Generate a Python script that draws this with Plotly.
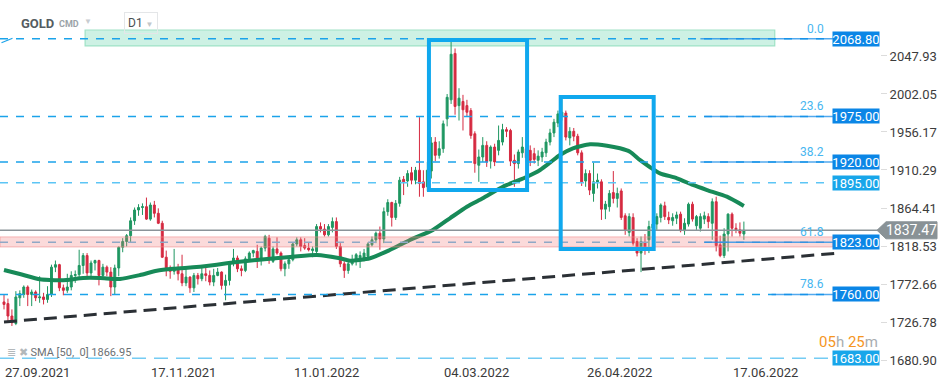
import plotly.graph_objects as go
import pandas as pd

# ---------------- data ----------------
holidays = ["2021-11-25", "2021-12-24", "2021-12-31", "2022-04-15", "2022-05-30"]
dates = [d for d in pd.bdate_range("2021-09-27", "2022-06-22") if d.strftime("%Y-%m-%d") not in holidays]

open_ = [1751,1749,1734,1725,1756,1760,1769,1760,1763,1756,
         1757,1754,1760,1793,1796,1768,1765,1769,1783,1784,
         1795,1807,1786,1798,1801,1783,1793,1787,1769,1792,
         1817,1824,1831,1849,1862,1865,1866,1851,1868,1858,
         1846,1805,1790,1788,1791,1785,1774,1781,1768,1783,
         1779,1785,1783,1775,1783,1787,1771,1777,1798,1804,
         1791,1789,1803,1810,1812,1802,1816,1828,1800,1815,
         1810,1791,1797,1802,1821,1826,1819,1816,1813,1812,
         1842,1839,1832,1841,1848,1818,1797,1789,1797,1800,
         1802,1804,1806,1820,1826,1834,1827,1860,1871,1853,
         1870,1899,1897,1907,1898,1910,1896,1890,1909,1944,
         1928,1936,1972,1995,2051,1988,1993,1988,1982,1954,
         1916,1926,1940,1921,1938,1934,1944,1959,1958,1922,
         1918,1931,1936,1934,1930,1922,1926,1931,1944,1955,
         1967,1975,1979,1949,1957,1951,1931,1897,1906,1882,
         1895,1896,1863,1866,1883,1876,1885,1855,1835,1853,
         1824,1810,1823,1826,1840,1845,1853,1867,1853,1849,
         1852,1857,1837,1845,1869,1843,1840,1851,1854,1846,
         1872,1820,1807,1833,1857,1840,1838,1833]
high = [1760,1755,1742,1764,1765,1771,1771,1766,1765,1782,
        1762,1770,1796,1801,1797,1772,1785,1788,1789,1814,
        1810,1810,1801,1802,1802,1797,1795,1793,1796,1818,
        1828,1833,1853,1865,1869,1870,1877,1871,1873,1864,
        1849,1813,1795,1815,1797,1808,1792,1782,1786,1786,
        1793,1793,1789,1791,1792,1788,1784,1799,1815,1807,
        1795,1806,1812,1814,1820,1818,1832,1832,1818,1829,
        1812,1800,1806,1823,1829,1829,1828,1823,1818,1845,
        1847,1845,1845,1853,1853,1822,1800,1802,1808,1810,
        1812,1815,1823,1830,1836,1842,1865,1875,1872,1874,
        1902,1903,1910,1914,1914,1974,1910,1920,1950,1950,
        1945,1970,2002,2068.8,2057,2009,2001,1995,1985,1957,
        1935,1950,1945,1940,1942,1964,1966,1962,1960,1929,
        1935,1950,1942,1940,1937,1934,1937,1948,1960,1972,
        1982,1998,1982,1962,1961,1954,1934,1911,1910,1919,
        1906,1899,1873,1886,1909,1889,1888,1858,1858,1858,
        1828,1830,1833,1849,1849,1858,1870,1872,1860,1858,
        1860,1860,1852,1871,1872,1856,1858,1860,1858,1876,
        1878,1831,1840,1858,1859,1846,1847,1848]
low = [1742,1727,1722,1723,1746,1756,1746,1746,1752,1750,
       1748,1750,1757,1787,1764,1759,1762,1765,1774,1781,
       1785,1782,1781,1789,1771,1781,1782,1758,1760,1782,
       1811,1818,1823,1844,1855,1856,1850,1849,1853,1845,
       1804,1782,1779,1784,1777,1770,1770,1762,1763,1772,
       1776,1776,1771,1770,1782,1766,1753,1771,1794,1787,
       1782,1787,1800,1805,1792,1795,1812,1797,1798,1808,
       1788,1782,1791,1800,1818,1812,1814,1812,1805,1810,
       1835,1830,1830,1835,1815,1793,1780,1785,1795,1795,
       1792,1800,1803,1818,1822,1814,1822,1855,1842,1850,
       1866,1880,1890,1893,1893,1878,1878,1885,1900,1921,
       1924,1931,1963,1990,1977,1970,1958,1975,1948,1907,
       1896,1920,1914,1912,1915,1928,1940,1950,1915,1890,
       1912,1925,1920,1915,1918,1915,1920,1926,1940,1950,
       1962,1970,1946,1940,1945,1928,1891,1890,1880,1872,
       1888,1850,1851,1860,1870,1865,1850,1832,1830,1819,
       1806,1787,1808,1810,1834,1838,1847,1850,1845,1843,
       1845,1835,1832,1842,1848,1838,1836,1845,1840,1826,
       1812,1805,1804,1812,1830,1834,1830,1826]
close = [1748,1734,1726,1757,1761,1769,1760,1763,1756,1757,
         1754,1760,1793,1796,1768,1765,1769,1783,1784,1795,
         1807,1786,1798,1801,1783,1793,1787,1769,1792,1817,
         1824,1831,1849,1862,1865,1866,1851,1868,1858,1846,
         1805,1790,1788,1791,1785,1774,1781,1768,1783,1779,
         1785,1783,1775,1783,1787,1771,1777,1798,1804,1791,
         1789,1803,1810,1813,1802,1816,1830,1802,1815,1810,
         1791,1797,1802,1821,1826,1818,1816,1814,1815,1842,
         1839,1832,1842,1848,1818,1797,1789,1797,1802,1808,
         1807,1810,1821,1826,1834,1827,1860,1871,1853,1870,
         1898,1896,1906,1898,1910,1894,1889,1910,1943,1928,
         1936,1966,1998,2050,1987,1997,1983,1980,1952,1918,
         1926,1940,1920,1938,1920,1946,1959,1957,1921,1918,
         1932,1938,1925,1922,1923,1927,1932,1944,1955,1968,
         1978,1980,1950,1957,1951,1931,1896,1906,1886,1896,
         1898,1863,1869,1882,1876,1882,1853,1838,1854,1822,
         1810,1824,1816,1842,1845,1854,1868,1854,1850,1853,
         1856,1837,1846,1869,1851,1854,1854,1855,1848,1872,
         1819,1807,1833,1857,1840,1838,1834,1837.47]

# SMA(50) (candle index, value)
sma_idx = [0, 4, 9.1, 11.6, 15.8, 20, 24.3, 29.3, 34.4, 38.6, 42.8, 47.8, 51.2, 56.3, 61.3,
           73, 79.1, 84.9, 87.4, 92.5, 97.5, 102.6, 108.4, 112.7, 117, 121, 126.1, 132.2,
           135.5, 138, 140.5, 143.8, 148.1, 152.4, 155.7, 158.2, 160.7, 163.3, 165.8,
           170.1, 174.1, 177.7, 182.7, 187]
sma_val = [1789.6, 1784.7, 1778.3, 1777.5, 1777.5, 1779.9, 1779.9, 1778.7, 1783.5, 1788.7,
           1791.1, 1792.8, 1794.4, 1797.6, 1800.4, 1805.6, 1807.7, 1803.7, 1800.8, 1803.7,
           1813.7, 1825.8, 1837.9, 1852.0, 1866.0, 1876.1, 1890.1, 1902.2, 1910.3, 1919.1,
           1928.4, 1936.5, 1941.3, 1939.6, 1936.5, 1932.4, 1922.4, 1913.6, 1906.3, 1900.3,
           1892.2, 1886.1, 1878.1, 1866.95]

# drawn levels
level_prices = [2068.80, 1975.00, 1920.00, 1895.00, 1823.00, 1760.00, 1683.00]
level_line_colors = ["#1ba3ea", "#1ba3ea", "#1ba3ea", "#5cc5f5", "#8fa8c6", "#1ba3ea", "#74ccf4"]
level_box_colors = ["#0b86e6", "#0b86e6", "#0b86e6", "#18a6ea", "#0b86e6", "#0b86e6", "#18a6ea"]
fib_names = ["0.0", "23.6", "38.2", "61.8", "78.6"]
fib_prices = [2068.80, 1975.00, 1920.00, 1823.00, 1760.00]
fib_start = [176, 177, 176, 177, 194]
trend_x = [0, 211.3]
trend_y = [1726.8, 1810.1]
box1 = dict(x0=107.4, x1=132.2, y0=1886.1, y1=2067.2)
box2 = dict(x0=140.7, x1=164.2, y0=1814.9, y1=1998.4)
zone_green = dict(x0=20.5, x1=194.8, y0=2060.0, y1=2079.3)
zone_pink = dict(y0=1817.4, y1=1829.5)
last_price = 1837.47
ytick_vals = [2047.93, 2002.05, 1956.17, 1910.29, 1864.41, 1818.53, 1772.66, 1726.78, 1680.90]
xlabel_dates = ["2021-09-27", "2021-11-17", "2022-01-11", "2022-03-04", "2022-04-26", "2022-06-17"]

# --------------- figure ----------------
W, H = 949, 385
ML, MR, MT, MB = 0, 69, 0, 23
PW, PH = W - ML - MR, H - MT - MB
XR = [-1.01, 221.4]
YR = [1678.5, 2115.5]
FONT = "Roboto, Arial, sans-serif"
LINE_END = 208.7

def px(x):
    return x / PW

def py(y):
    return (PH - y) / PH

idx = list(range(len(dates)))
date_pos = {d.strftime("%Y-%m-%d"): i for i, d in enumerate(dates)}

fig = go.Figure()
fig.add_trace(go.Candlestick(
    x=idx, open=open_, high=high, low=low, close=close,
    increasing=dict(line=dict(color="#1f9762", width=1), fillcolor="#1f9762"),
    decreasing=dict(line=dict(color="#d52a40", width=1), fillcolor="#d52a40"),
    whiskerwidth=0, showlegend=False, hoverinfo="skip"))

fig.add_trace(go.Scatter(x=sma_idx, y=sma_val, mode="lines",
                         line=dict(color="#178a58", width=4, shape="spline", smoothing=0.6),
                         showlegend=False, hoverinfo="skip"))

fig.add_trace(go.Scatter(x=trend_x, y=trend_y, mode="lines",
                         line=dict(color="#2b3035", width=3, dash="13px,7px"),
                         showlegend=False, hoverinfo="skip"))

shapes = []
# green zone (behind candles)
shapes.append(dict(type="rect", xref="x", yref="y", layer="below",
                   x0=zone_green["x0"], x1=zone_green["x1"], y0=zone_green["y0"], y1=zone_green["y1"],
                   fillcolor="rgba(90,210,165,0.30)", line=dict(color="#9fe2c6", width=1.2)))
# pink zone
shapes.append(dict(type="rect", xref="x", yref="y", layer="above",
                   x0=XR[0], x1=LINE_END + 0.8, y0=zone_pink["y0"], y1=zone_pink["y1"],
                   fillcolor="rgba(240,120,120,0.27)", line=dict(color="rgba(240,140,140,0.6)", width=1)))
# last price line
shapes.append(dict(type="line", xref="paper", yref="y", layer="above",
                   x0=0, x1=1, y0=last_price, y1=last_price,
                   line=dict(color="#8a9398", width=1.5)))
# dashed levels
for p, c in zip(level_prices, level_line_colors):
    dash = "14px,8px" if p == 1683.00 else "8px,8px"
    shapes.append(dict(type="line", xref="x", yref="y", layer="above",
                       x0=XR[0], x1=LINE_END, y0=p, y1=p,
                       line=dict(color=c, width=1.5, dash=dash)))
# fib solid segments
for s, p in zip(fib_start, fib_prices):
    shapes.append(dict(type="line", xref="x", yref="y", layer="above",
                       x0=s, x1=LINE_END + 0.8, y0=p, y1=p,
                       line=dict(color="rgba(24,140,232,0.75)", width=1.5)))
# blue boxes
for b in (box1, box2):
    shapes.append(dict(type="rect", xref="x", yref="y", layer="above",
                       x0=b["x0"], x1=b["x1"], y0=b["y0"], y1=b["y1"],
                       fillcolor="rgba(0,0,0,0)", line=dict(color="#10a8ee", width=4)))
# small arrow mark at top-left
shapes.append(dict(type="line", xref="paper", yref="paper", layer="above",
                   x0=px(1.5), y0=py(42.7), x1=px(12.5), y1=py(38.3),
                   line=dict(color="#1ba3ea", width=1.2)))
# current price tag
yt = last_price + 8.5 * (YR[1] - YR[0]) / PH
yb = last_price - 8.5 * (YR[1] - YR[0]) / PH
path = (f"M {px(877)},{last_price} L {px(886)},{yt} L {px(937)},{yt} "
        f"L {px(937)},{yb} L {px(886)},{yb} Z")
shapes.append(dict(type="path", xref="paper", yref="y", path=path,
                   fillcolor="#899296", line=dict(color="#899296", width=1)))

annotations = []
# level price boxes
for p, c in zip(level_prices, level_box_colors):
    annotations.append(dict(xref="paper", yref="y", x=px(880), y=p, xanchor="right", yanchor="middle",
                            text=f"{p:.2f}", showarrow=False, bgcolor=c, width=46, height=14,
                            borderpad=0, font=dict(family=FONT, size=13, color="white")))
# fib level names
for n, p in zip(fib_names, fib_prices):
    annotations.append(dict(xref="x", yref="y", x=207.8, y=p, xanchor="right", yanchor="bottom",
                            yshift=1, text=n, showarrow=False,
                            font=dict(family=FONT, size=12, color="#47b6f0")))
# last price text
annotations.append(dict(xref="paper", yref="y", x=px(911), y=last_price, xanchor="center",
                        yanchor="middle", text=f"{last_price:.2f}", showarrow=False,
                        font=dict(family=FONT, size=14, color="white")))
# x labels (left aligned on the candle)
for d in xlabel_dates:
    i = date_pos[d]
    annotations.append(dict(xref="x", yref="paper", x=i, y=0, xanchor="left", yanchor="top",
                            xshift=-1, yshift=-1,
                            text=pd.Timestamp(d).strftime("%d.%m.%Y"), showarrow=False,
                            font=dict(family=FONT, size=13, color="#3a3a3a")))
# header
annotations += [
    dict(xref="paper", yref="paper", x=px(19), y=py(23), xanchor="left", yanchor="middle",
         text="<b>GOLD</b>", showarrow=False, font=dict(family=FONT, size=13, color="#555c61")),
    dict(xref="paper", yref="paper", x=px(57), y=py(24), xanchor="left", yanchor="middle",
         text="<b>CMD</b>", showarrow=False, font=dict(family=FONT, size=9, color="#9ba3a8")),
    dict(xref="paper", yref="paper", x=px(82), y=py(21), xanchor="left", yanchor="middle",
         text="▼", showarrow=False, font=dict(family=FONT, size=8, color="#c8ccd0")),
    dict(xref="paper", yref="paper", x=px(124), y=py(23), xanchor="left", yanchor="middle",
         text="D1 <span style='color:#c3c7ca;font-size:8px'>▼</span>", showarrow=False,
         bordercolor="#e4e6e8", borderwidth=1, borderpad=3,
         font=dict(family=FONT, size=12, color="#4a4f53")),
    # SMA legend
    dict(xref="paper", yref="paper", x=px(5), y=py(352), xanchor="left", yanchor="middle",
         text="<span style='color:#b3b8bb'>≣ ✖</span> SMA [50,  0] 1866.95", showarrow=False,
         font=dict(family=FONT, size=11, color="#6c7174")),
    # countdown
    dict(xref="paper", yref="paper", x=px(880), y=py(342), xanchor="right", yanchor="middle",
         text="<span style='color:#f5961f'>05</span><span style='color:#a8adb0'>h</span> "
              "<span style='color:#f5961f'>25</span><span style='color:#a8adb0'>m</span>",
         showarrow=False, font=dict(family=FONT, size=15)),
]

fig.update_layout(
    width=W, height=H, margin=dict(l=ML, r=MR, t=MT, b=MB),
    paper_bgcolor="white", plot_bgcolor="white",
    font=dict(family=FONT),
    shapes=shapes, annotations=annotations, showlegend=False,
    xaxis=dict(range=XR, showgrid=False, zeroline=False, showticklabels=False,
               showline=False, rangeslider=dict(visible=False), fixedrange=True),
    yaxis=dict(range=YR, side="right", showgrid=False, zeroline=False, showline=False,
               tickvals=ytick_vals, ticktext=[f"{v:.2f}" for v in ytick_vals],
               ticks="outside", ticklen=6, tickcolor="#dcdcdc",
               tickfont=dict(family=FONT, size=13, color="#3c3c3c"), fixedrange=True),
)

fig.write_html("out.html")
